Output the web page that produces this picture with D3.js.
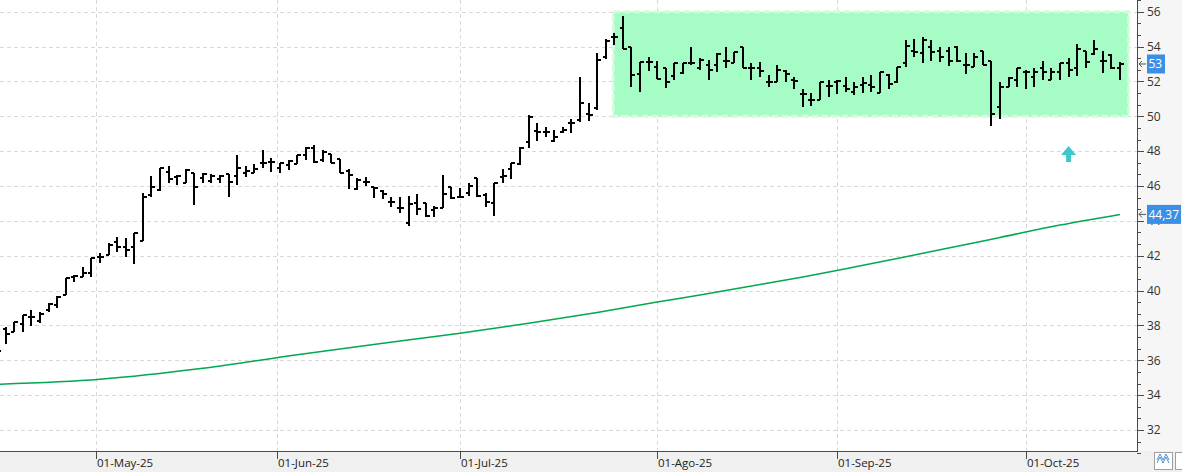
<!DOCTYPE html>
<html><head><meta charset="utf-8">
<script src="https://cdn.jsdelivr.net/npm/d3@7"></script>
<style>
html,body{margin:0;padding:0;background:#fff;overflow:hidden}
svg{display:block;font-family:"Open Sans","Segoe UI",Arial,sans-serif}
</style></head><body>
<svg id="chart" width="1182" height="472"></svg>
<script>
// ---------- DATA ----------
const firstDay = "2025-04-11", lastDay = "2025-10-16";
const holidays = ["2025-04-18", "2025-04-21", "2025-05-01"];

const opens = [36.40,37.78,37.64,38.08,38.47,38.25,38.89,39.17,39.75,40.80,
40.80,40.99,41.91,42.04,42.80,42.48,42.48,42.86,45.49,45.77,
46.82,46.51,46.16,46.73,46.48,46.29,46.38,46.67,46.57,46.76,
46.76,47.30,47.39,47.05,47.20,47.24,47.78,48.16,47.49,47.84,
47.53,46.86,45.81,46.25,45.92,45.73,45.06,44.76,43.86,45.01,
45.01,44.62,44.72,45.92,45.39,45.58,46.44,45.48,45.01,46.53,
46.96,47.26,48.51,49.15,49.11,48.60,49.11,49.60,49.79,50.13,
50.46,53.42,54.53,55.05,53.99,52.41,53.13,52.84,52.79,52.33,
52.50,53.04,52.75,52.94,52.94,53.19,53.04,53.96,52.79,52.79,
51.98,51.98,52.61,52.08,51.26,50.93,50.93,51.74,51.98,51.74,
51.41,51.79,51.79,51.32,52.37,51.95,53.07,53.76,53.61,53.99,
53.74,53.74,53.99,52.94,52.85,53.74,53.17,50.51,51.66,52.08,
52.56,52.24,52.75,52.08,52.56,53.07,52.79,53.74,53.56,53.19,
53.51,52.79];
const highs = [36.90,37.89,38.20,38.60,38.88,38.79,39.27,39.69,40.70,40.89,
41.34,41.85,42.14,42.75,43.09,43.00,43.28,45.60,46.57,47.05,
47.15,46.63,46.96,46.76,46.73,46.67,46.63,46.67,47.78,47.15,
47.24,48.06,47.59,47.34,47.49,47.78,48.25,48.35,48.06,47.84,
47.53,46.96,46.44,46.53,45.92,45.77,45.35,45.39,45.42,45.52,
45.01,44.86,46.63,45.96,45.86,46.15,46.44,45.58,46.15,46.96,
47.34,48.25,50.07,49.63,49.40,49.20,49.40,49.83,52.27,50.78,
53.61,54.42,54.80,55.75,53.99,53.13,53.42,53.17,52.79,53.04,
53.04,53.99,53.33,53.23,53.61,53.96,53.71,53.96,53.04,53.13,
52.37,52.94,52.65,52.24,51.55,51.32,51.98,52.08,52.08,52.24,
51.98,52.24,52.37,52.56,52.42,52.84,54.38,54.42,54.53,54.38,
53.99,53.99,54.03,53.65,53.65,53.74,53.17,51.98,52.24,52.75,
52.65,52.75,53.17,52.75,53.04,53.33,54.15,53.74,54.38,53.74,
53.57,53.13];
const lows = [36.20,36.92,37.64,37.64,37.97,38.12,38.79,38.98,39.75,40.47,
40.76,40.76,41.60,42.04,42.23,41.94,41.51,42.86,45.39,45.71,
46.19,46.05,46.16,44.91,46.19,46.19,46.15,45.39,46.06,46.53,
46.73,47.02,46.82,46.76,46.92,47.24,47.49,47.34,47.39,47.30,
46.73,45.81,45.77,45.99,45.29,45.24,44.81,44.43,43.72,44.34,
44.24,44.24,44.72,45.24,45.35,45.42,45.35,44.81,44.30,46.19,
46.38,47.20,48.20,48.58,48.83,48.54,49.06,49.06,49.69,49.75,
50.36,53.27,54.09,53.84,51.70,51.41,52.61,52.12,51.64,52.08,
52.42,52.94,52.65,52.08,52.56,52.79,53.04,52.79,52.08,52.24,
51.70,51.98,51.98,51.55,50.51,50.59,50.93,51.12,51.28,51.41,
51.22,51.32,51.41,51.32,51.55,51.89,52.85,53.42,53.04,53.17,
53.13,52.90,53.13,52.41,52.85,52.94,49.44,49.83,51.66,51.66,
51.55,51.66,52.08,52.08,52.08,52.24,52.31,52.79,53.51,52.50,
52.71,52.08];
const closes = [36.53,37.49,38.20,38.60,38.47,38.66,39.23,39.65,40.70,40.85,
40.99,41.85,41.91,42.61,42.48,42.32,43.28,45.35,45.93,47.01,
46.38,46.57,46.92,45.93,46.67,46.59,46.57,46.25,47.01,46.86,
46.96,47.30,47.36,47.30,47.43,47.76,48.16,47.36,47.97,47.30,
46.76,46.63,46.34,46.25,45.86,45.52,45.06,44.72,44.97,44.68,
44.28,44.72,45.52,45.29,45.39,45.99,45.42,45.06,46.15,46.59,
47.34,48.20,49.97,49.11,49.11,48.79,49.21,49.60,50.74,50.07,
53.23,54.34,54.53,53.86,52.35,53.13,53.13,52.12,51.98,53.04,
53.04,53.04,53.23,52.65,53.57,53.19,53.67,52.79,52.79,52.61,
51.98,52.65,52.42,52.04,51.26,50.93,51.98,51.74,52.04,51.55,
51.66,51.89,51.66,52.56,51.85,52.84,54.03,53.71,54.38,53.71,
53.42,53.17,53.17,52.94,53.38,52.94,50.11,51.66,52.18,52.75,
52.56,52.56,52.56,52.56,53.04,52.65,53.84,53.13,53.84,53.19,
52.75,53.00];

// long moving average (bar index -> value)
const maBars   = [0, 12, 24, 35, 47, 54, 62, 70, 77, 82, 88, 94, 100, 105, 111, 117, 124, 131];
const maValues = [34.62,34.91,35.54,36.32,37.10,37.55,38.12,38.74,39.34,39.75,40.26,40.78,41.35,41.84,42.44,43.05,43.76,44.37];

const monthTickDates  = ["2025-05-01","2025-06-01","2025-07-01","2025-08-01","2025-09-01","2025-10-01"];
const monthTickLabels = ["01-May-25","01-Jun-25","01-Jul-25","01-Ago-25","01-Sep-25","01-Oct-25"];
const yTickValues = [32,34,36,38,40,42,44,46,48,50,52,54,56];

const zoneLow = 50, zoneHigh = 56, zoneFromBar = 72, zoneToBar = 132;
const signalBar = 125, signalValue = 47.38;
const lastCloseLabel = "53", lastCloseValue = 53;
const maLastLabel = "44,37", maLastValue = 44.37;

// ---------- CALENDAR (trading days) ----------
const parse = d3.utcParse("%Y-%m-%d"), fmt = d3.utcFormat("%Y-%m-%d");
const dates = d3.utcDay.range(parse(firstDay), d3.utcDay.offset(parse(lastDay), 1))
  .filter(d => d.getUTCDay() !== 0 && d.getUTCDay() !== 6 && !holidays.includes(fmt(d)));
const bars = dates.map((d, i) => ({d, i, o: opens[i], h: highs[i], l: lows[i], c: closes[i]}));

// ---------- LAYOUT ----------
const W = 1182, H = 472, plotR = 1137, plotB = 451;
const svg = d3.select("#chart");
const x = d3.scaleLinear().domain([0, dates.length - 1]).range([-2.8, 1120]);
const y = d3.scaleLinear().domain([32, 56]).range([430, 11.7]);

// calendar-date position (interpolated between trading bars)
function xDate(ds) {
  const t = parse(ds).getTime();
  let k = d3.bisector(d => d.getTime()).right(dates, t) - 1;
  k = Math.max(0, Math.min(dates.length - 2, k));
  const t0 = dates[k].getTime(), t1 = dates[k + 1].getTime();
  return x(k + (t - t0) / (t1 - t0));
}

// backgrounds
svg.append("rect").attr("x", 0).attr("y", 0).attr("width", W).attr("height", H).attr("fill", "#ffffff");
svg.append("rect").attr("x", plotR).attr("y", 0).attr("width", W - plotR).attr("height", plotB).attr("fill", "#f6f6f6");
svg.append("rect").attr("x", 0).attr("y", plotB).attr("width", W).attr("height", H - plotB).attr("fill", "#f0f0f0");

svg.append("clipPath").attr("id", "clip").append("rect")
  .attr("x", 0).attr("y", 0).attr("width", plotR).attr("height", plotB);
const g = svg.append("g").attr("clip-path", "url(#clip)");

// gridlines
g.selectAll("line.hg").data(yTickValues).join("line")
  .attr("x1", 0).attr("x2", plotR)
  .attr("y1", d => Math.round(y(d)) + 0.5).attr("y2", d => Math.round(y(d)) + 0.5)
  .attr("stroke", "#d9d9d9").attr("stroke-dasharray", "4,3");
const monthX = monthTickDates.map(xDate);
g.selectAll("line.vg").data(monthX).join("line")
  .attr("x1", d => Math.round(d) + 0.5).attr("x2", d => Math.round(d) + 0.5)
  .attr("y1", 0).attr("y2", plotB)
  .attr("stroke", "#d9d9d9").attr("stroke-dasharray", "4,3");

// zone rectangle
g.append("rect")
  .attr("x", x(zoneFromBar) - 1).attr("y", y(zoneHigh))
  .attr("width", x(zoneToBar) - x(zoneFromBar) + 1).attr("height", y(zoneLow) - y(zoneHigh))
  .attr("fill", "#a6fcc5").attr("stroke", "#d3fcdb").attr("stroke-width", 3)
  .attr("stroke-dasharray", "7,3");

// moving average
g.append("path").datum(maBars.map((b, k) => [b, maValues[k]]))
  .attr("fill", "none").attr("stroke", "#00a84f").attr("stroke-width", 1.5)
  .attr("d", d3.line().x(d => x(d[0])).y(d => y(d[1])).curve(d3.curveMonotoneX));

// OHLC bars
const bg = g.append("g").attr("stroke", "#000").attr("stroke-width", 1.8).attr("shape-rendering", "crispEdges");
const bx = d => Math.round(x(d.i));
bg.selectAll("line.hl").data(bars).join("line")
  .attr("x1", bx).attr("x2", bx).attr("y1", d => y(d.h)).attr("y2", d => y(d.l));
bg.selectAll("line.o").data(bars).join("line")
  .attr("x1", d => bx(d) - 3.5).attr("x2", bx).attr("y1", d => Math.round(y(d.o))).attr("y2", d => Math.round(y(d.o)));
bg.selectAll("line.c").data(bars).join("line")
  .attr("x1", bx).attr("x2", d => bx(d) + 3.5).attr("y1", d => Math.round(y(d.c))).attr("y2", d => Math.round(y(d.c)));

// signal arrow
const ax = x(signalBar), ay = y(signalValue);
g.append("path")
  .attr("d", `M${ax - 2.5},${ay} L${ax + 2.5},${ay} L${ax + 2.5},${ay - 7} L${ax + 7.5},${ay - 7} L${ax},${ay - 16} L${ax - 7.5},${ay - 7} L${ax - 2.5},${ay - 7} Z`)
  .attr("fill", "#3cc9c9");

// right axis
svg.append("line").attr("x1", plotR + 0.5).attr("x2", plotR + 0.5).attr("y1", 0).attr("y2", plotB + 1)
  .attr("stroke", "#4a4a4a");
const minor = d3.range(30, 58, 2 / 3).filter(v => Math.abs(v - Math.round(v / 2) * 2) > 0.1);
svg.selectAll("line.ymin").data(minor).join("line")
  .attr("x1", plotR).attr("x2", plotR + 4)
  .attr("y1", d => Math.round(y(d)) + 0.5).attr("y2", d => Math.round(y(d)) + 0.5)
  .attr("stroke", "#4a4a4a");
svg.selectAll("line.ymaj").data(yTickValues).join("line")
  .attr("x1", plotR).attr("x2", plotR + 7)
  .attr("y1", d => Math.round(y(d)) + 0.5).attr("y2", d => Math.round(y(d)) + 0.5)
  .attr("stroke", "#4a4a4a");
svg.selectAll("text.ylab").data(yTickValues).join("text")
  .attr("x", plotR + 10).attr("y", d => y(d)).attr("dy", "0.36em")
  .attr("font-size", 12).attr("fill", "#333").text(d => d);

// value badges
function badge(v, label, w) {
  const yy = y(v);
  svg.append("path").attr("d", `M${plotR + 9},${yy} L${plotR + 2},${yy} M${plotR + 5},${yy - 3} L${plotR + 2},${yy} L${plotR + 5},${yy + 3}`)
    .attr("stroke", "#555").attr("fill", "none");
  svg.append("rect").attr("x", plotR + 10).attr("y", yy - 9.5).attr("width", w).attr("height", 19).attr("fill", "#3b8fe4");
  svg.append("text").attr("x", plotR + 11.5).attr("y", yy).attr("dy", "0.36em")
    .attr("font-size", 12).attr("fill", "#fff").text(label);
}
badge(lastCloseValue, lastCloseLabel, 18);
badge(maLastValue, maLastLabel, 34);

// bottom axis
svg.append("line").attr("x1", 0).attr("x2", plotR + 1).attr("y1", plotB + 0.5).attr("y2", plotB + 0.5)
  .attr("stroke", "#4a4a4a");
svg.selectAll("line.xt").data(monthX).join("line")
  .attr("x1", d => Math.round(d) + 0.5).attr("x2", d => Math.round(d) + 0.5)
  .attr("y1", plotB).attr("y2", plotB + 8).attr("stroke", "#4a4a4a");
svg.selectAll("text.xl").data(monthX).join("text")
  .attr("x", d => Math.round(d) + 1).attr("y", plotB + 16).attr("font-size", 11.5).attr("fill", "#222")
  .text((d, i) => monthTickLabels[i]);

// corner buttons
svg.append("rect").attr("x", 1154.5).attr("y", 452.5).attr("width", 18).attr("height", 17)
  .attr("fill", "#fff").attr("stroke", "#a0a0a0");
svg.append("path").attr("d", "M1157,463 L1160,457 L1163,463 L1166,457 L1169,463 M1157,460 L1160,454 L1163,460 L1166,454 L1169,460")
  .attr("stroke", "#4a90d9").attr("fill", "none").attr("stroke-width", 1);
svg.append("rect").attr("x", 1175.5).attr("y", 452.5).attr("width", 12).attr("height", 17)
  .attr("fill", "#fff").attr("stroke", "#a0a0a0");
</script>
</body></html>
